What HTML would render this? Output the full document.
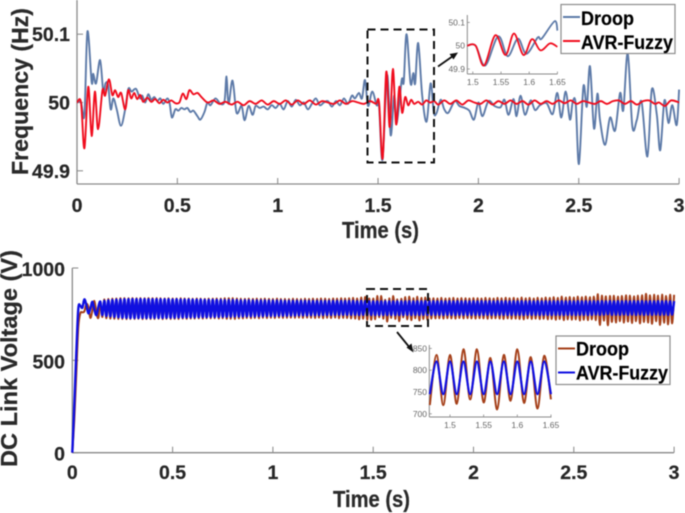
<!DOCTYPE html>
<html>
<head>
<meta charset="utf-8">
<title>Frequency and DC link voltage comparison</title>
<style>
html,body{margin:0;padding:0;background:#fff;width:685px;height:513px;overflow:hidden}
svg{display:block;filter:blur(.45px)}
text{font-family:"Liberation Sans",sans-serif}
.tick{font-weight:700;font-size:19.5px;fill:#262626;stroke:#262626;stroke-width:.2px}
.title{font-weight:700;font-size:23px;fill:#2a2a2a;stroke:#2a2a2a;stroke-width:.25px}
.leg{font-weight:700;font-size:19.5px;fill:#000;stroke:#000;stroke-width:.2px}
.small{font-size:8.5px;fill:#666}
</style>
</head>
<body>
<svg id="chart" xmlns="http://www.w3.org/2000/svg" width="685" height="513" viewBox="0 0 685 513">
  <g id="layer-top"></g>
  <g id="layer-bottom"></g>

  <text class="title" transform="translate(28,175) rotate(-90)" textLength="167" lengthAdjust="spacingAndGlyphs">Frequency (Hz)</text>
  <text class="title" x="342" y="238" textLength="77" lengthAdjust="spacingAndGlyphs">Time (s)</text>
  <text class="title" transform="translate(17,467) rotate(-90)" textLength="217" lengthAdjust="spacingAndGlyphs">DC Link Voltage (V)</text>
  <text class="title" x="333" y="507" textLength="77" lengthAdjust="spacingAndGlyphs">Time (s)</text>

  <rect x="367.5" y="29.5" width="66.5" height="133" fill="none" stroke="#111" stroke-width="2" stroke-dasharray="8 5"/>
  <rect x="367" y="289" width="61" height="37" fill="none" stroke="#111" stroke-width="2" stroke-dasharray="8 5"/>
  <g>
    <line x1="438" y1="66.5" x2="453" y2="56" stroke="#111" stroke-width="1.8"/>
    <polygon points="458,52.5 449.5,54 453.5,59.5" fill="#111"/>
  </g>
  <g>
    <line x1="397" y1="332" x2="410" y2="348" stroke="#111" stroke-width="1.8"/>
    <polygon points="413.5,352.5 406.5,347.5 411.5,343.5" fill="#111"/>
  </g>

  <g id="layer-inset-top"></g>
  <g id="layer-inset-bottom"></g>

  <g>
    <rect x="561" y="4.5" width="114" height="49" fill="#fff" stroke="#8c8c8c" stroke-width="1.2"/>
    <line x1="563" y1="17" x2="580" y2="17" stroke="#5d7aa8" stroke-width="2"/>
    <text class="leg" x="581" y="25" textLength="53" lengthAdjust="spacingAndGlyphs">Droop</text>
    <line x1="563" y1="41" x2="580" y2="41" stroke="#f00d1e" stroke-width="2"/>
    <text class="leg" x="581" y="49" textLength="92" lengthAdjust="spacingAndGlyphs">AVR-Fuzzy</text>
  </g>
  <g>
    <rect x="556" y="336" width="114" height="48.5" fill="#fff" stroke="#8c8c8c" stroke-width="1.2"/>
    <line x1="558" y1="348.5" x2="575" y2="348.5" stroke="#a5401a" stroke-width="2"/>
    <text class="leg" x="576" y="355.5" textLength="53" lengthAdjust="spacingAndGlyphs">Droop</text>
    <line x1="558" y1="372.5" x2="575" y2="372.5" stroke="#1010e0" stroke-width="2"/>
    <text class="leg" x="576" y="379.5" textLength="92" lengthAdjust="spacingAndGlyphs">AVR-Fuzzy</text>
  </g>
</svg>
<script>
var timeTicks = [0, 0.5, 1, 1.5, 2, 2.5, 3];
var timeTickLabels = ['0', '0.5', '1', '1.5', '2', '2.5', '3'];
var freqTicks = [50.1, 50, 49.9];
var freqTickLabels = ['50.1', '50', '49.9'];
var voltTicks = [1000, 500, 0];
var voltTickLabels = ['1000', '500', '0'];
var freqInsetTimeTicks = [1.5, 1.55, 1.6, 1.65];
var freqInsetTimeLabels = ['1.5', '1.55', '1.6', '1.65'];
var voltInsetTimeLabels = ['1.5', '1.55', '1.6', '1.65'];
var voltInsetTicks = [850, 800, 750, 700];
var voltInsetLabels = ['850', '800', '750', '700'];

var droopFreqTimes = [0,.02,.037,.052,.073,.081,.095,.115,.131,.142,.155,.168,.181,.198,.219,.24,.256,.272,.294,.314,.325,.34,.355,.37,.385,.4,.415,.43,.45,.462,.473,.49,.505,.52,.535,.55,.565,.58,.6,.615,.635,.65,.665,.69,.715,.735,.745,.755,.775,.795,.82,.835,.855,.875,.89,.91,.93,.95,.97,.99,1.01,1.03,1.05,1.07,1.09,1.11,1.13,1.15,1.17,1.19,1.21,1.23,1.25,1.27,1.29,1.31,1.33,1.35,1.37,1.385,1.405,1.42,1.435,1.45,1.471,1.493,1.505,1.522,1.545,1.563,1.58,1.593,1.618,1.628,1.642,1.662,1.676,1.685,1.70,1.72,1.742,1.762,1.778,1.792,1.812,1.83,1.85,1.882,1.905,1.933,1.955,1.978,2.0,2.02,2.05,2.08,2.11,2.13,2.15,2.175,2.19,2.21,2.232,2.26,2.282,2.307,2.34,2.37,2.393,2.413,2.435,2.456,2.47,2.485,2.501,2.523,2.54,2.556,2.576,2.593,2.606,2.631,2.656,2.681,2.706,2.722,2.744,2.767,2.789,2.813,2.842,2.864,2.889,2.906,2.927,2.947,2.966,2.988,3];
var droopFreqValues = [50,50,49.982,50.104,50.03,50.042,50.028,50.062,50.016,50.028,50.026,49.99,50.006,49.99,49.966,49.99,50.02,50.016,50.02,50.006,50.01,50.0,50.012,50.004,50.008,50.002,50.006,49.998,50.006,49.998,49.978,49.99,49.988,49.992,49.99,49.992,49.986,49.988,49.98,49.975,49.986,50,49.996,50.006,49.998,50.002,50.038,49.998,50.032,49.985,49.995,49.974,49.995,49.982,49.995,49.992,49.994,49.99,49.996,49.992,49.998,49.99,50.002,49.994,50.004,49.996,50.0,49.99,49.998,50.006,49.996,50,50.002,49.994,50.002,49.996,50.006,49.998,50.01,50.006,50.014,50.006,50.033,49.995,50.016,49.996,49.995,49.916,50.04,49.952,50.01,49.97,50.033,50.03,50.1,50.028,50.043,50.028,50.087,50.01,49.972,50.028,49.985,49.985,50.004,49.99,49.985,50.002,49.995,49.992,49.988,49.975,50,49.98,50.002,49.995,49.993,50.004,49.982,50.005,49.98,50.01,49.982,50.003,49.989,49.996,49.999,49.983,50.014,49.978,50.016,49.975,50.001,49.998,49.91,50.023,49.994,50.053,49.962,50.013,49.974,49.938,49.978,49.959,50.014,49.989,50.072,49.965,49.974,50.001,49.921,50.019,49.982,49.93,50.003,49.97,49.996,49.967,50.019];
var avrFreqTimes = [0,.02,.037,.056,.073,.089,.105,.127,.14,.159,.176,.19,.205,.22,.24,.255,.27,.285,.3,.315,.33,.35,.37,.39,.41,.43,.45,.47,.49,.51,.527,.545,.56,.58,.6,.62,.65,.68,.71,.74,.77,.8,.83,.86,.89,.92,.95,.98,1.01,1.04,1.07,1.1,1.13,1.16,1.19,1.22,1.25,1.28,1.31,1.34,1.37,1.4,1.43,1.46,1.49,1.505,1.523,1.541,1.558,1.574,1.59,1.606,1.62,1.635,1.65,1.665,1.68,1.7,1.72,1.74,1.76,1.78,1.8,1.83,1.86,1.89,1.92,1.95,1.98,2.01,2.04,2.07,2.1,2.13,2.16,2.19,2.22,2.25,2.28,2.31,2.34,2.37,2.4,2.43,2.46,2.49,2.52,2.55,2.58,2.61,2.64,2.67,2.7,2.73,2.76,2.79,2.82,2.85,2.88,2.9,2.93,2.96,3];
var avrFreqValues = [50,50,49.933,50.023,49.951,50.016,49.961,50.018,50.01,50.034,50.011,50.018,50.008,50.014,49.99,50.018,50.006,50.014,50.005,50.011,50.001,50.007,50.001,50.005,49.999,50.004,50,50.003,49.999,50,50.013,50.005,50.018,50.012,50.014,50.008,50,50.003,49.998,50.001,49.997,50.001,49.996,50.002,49.998,50.003,49.997,50.002,49.998,50.003,49.997,50.003,49.998,50.003,49.997,50.002,50,49.998,50.003,49.998,50.002,50,49.998,50.002,49.998,50,49.918,50.045,49.964,50.049,49.968,50.023,49.985,50.008,49.996,50.004,49.998,50.001,49.997,50.003,50,50.002,49.997,50.003,49.998,50.003,49.997,50.003,50,49.998,50.003,49.997,50.002,49.998,50.003,49.998,50.002,49.997,50.003,49.998,50.002,49.998,50.003,49.999,50.003,49.998,50.002,50,49.998,50.002,49.998,50.002,50.003,49.998,50.002,49.997,50.002,50.003,49.998,50,49.995,50.003,50];

var voltageStep = 0.01;
var droopVoltage = [
0,180,430,680,755,760,765,805,790,730,770,822,760,730,810,735,830,728,832,726,
834,725,835,724,836,724,837,723,836,724,837,724,836,725,837,723,836,724,837,724,
836,724,837,725,836,723,835,725,836,724,835,725,835,724,836,726,835,725,835,726,
834,726,835,727,834,726,833,728,834,727,834,728,835,726,834,728,836,725,836,725,
837,724,835,727,834,727,833,729,834,728,833,729,834,728,833,730,834,729,833,730,
833,729,834,731,832,729,833,730,832,731,834,730,833,731,832,730,834,731,833,730,
834,729,833,731,835,728,834,730,833,729,835,731,834,728,836,730,835,729,836,727,
838,726,835,722,840,725,843,720,835,720,835,723,848,733,848,726,828,710,835,730,
848,725,830,712,833,733,842,722,845,718,836,728,844,716,838,724,840,720,835,726,
836,727,835,728,838,726,835,728,836,727,838,726,835,729,837,727,836,728,835,727,
837,726,836,728,835,727,838,725,836,727,835,728,838,726,836,724,839,727,836,725,
838,726,835,724,840,722,836,727,838,724,835,726,839,723,836,725,840,722,838,724,
842,720,838,724,845,718,840,722,843,720,840,722,845,716,842,720,846,718,842,722,
845,718,858,692,850,715,846,690,848,708,850,705,845,712,848,704,852,710,850,702,
846,712,850,700,852,708,860,705,852,698,855,712,850,692,856,704,848,695,855,700,
855];
var avrVoltage = [
0,260,540,780,795,785,830,800,755,780,817,775,745,790,817,745,822,740,825,738,
827,735,829,733,830,731,831,730,831,729,832,729,832,729,832,730,832,729,831,730,
831,730,832,730,831,730,831,731,831,731,830,731,831,732,830,732,830,732,830,733,
829,733,829,734,829,734,828,734,828,735,828,735,828,735,828,736,827,736,827,736,
827,737,827,737,826,737,826,738,826,738,825,738,825,739,825,739,825,740,824,740,
824,740,824,741,824,741,823,741,823,742,823,742,823,743,823,743,823,743,822,744,
822,744,822,744,822,745,822,745,822,745,822,746,822,746,822,746,822,746,822,746,
822,746,821,745,822,746,821,745,820,745,820,745,820,745,820,745,820,745,820,745,
820,745,820,745,820,745,820,746,821,745,820,746,821,745,820,746,821,746,820,746,
821,746,820,746,821,745,820,746,821,746,820,745,821,746,820,746,821,745,820,746,
821,746,820,745,821,746,820,746,821,746,820,745,821,746,820,746,821,745,820,746,
821,746,820,746,821,745,820,746,821,746,820,746,821,745,820,746,821,746,820,745,
821,746,820,746,821,745,820,746,821,746,820,745,821,746,820,746,821,745,820,746,
821,748,820,746,821,747,820,749,821,746,820,747,821,746,820,748,821,746,820,747,
821,746,820,748,821,746,820,747,821,746,820,748,821,746,820,747,821,746,820,747,
821];

var NS = 'http://www.w3.org/2000/svg';
var AXIS = '#8a8a8a';

function topX(t){ return 77 + t * 200.7; }
function topY(f){ return 102.5 - (f - 50) * 683; }
function botX(t){ return 72.3 + t * 200.6; }
function botY(v){ return 452.7 - v * 0.1847; }
function insetTopX(t){ return 472.8 + (t - 1.5) * 564; }
function insetTopY(f){ return 45.7 - (f - 50) * 233; }
function insetBotX(t){ return 450 + (t - 1.5) * 673; }
function insetBotY(v){ return 392 - (v - 750) * 0.4357; }

function make(parent, tag, attrs){
  var el = document.createElementNS(NS, tag);
  for (var k in attrs) el.setAttribute(k, attrs[k]);
  parent.appendChild(el);
  return el;
}

function smoothPath(ts, vs, sx, sy){
  var p = [];
  for (var i = 0; i < ts.length; i++) p.push([sx(ts[i]), sy(vs[i])]);
  var d = 'M' + p[0][0].toFixed(2) + ' ' + p[0][1].toFixed(2);
  for (var j = 0; j < p.length - 1; j++){
    var a = p[Math.max(j - 1, 0)], b = p[j], c = p[j + 1], e = p[Math.min(j + 2, p.length - 1)];
    var k = 1 / 6;
    d += 'C' + (b[0] + (c[0] - a[0]) * k).toFixed(2) + ' ' + (b[1] + (c[1] - a[1]) * k).toFixed(2) + ' ' +
         (c[0] - (e[0] - b[0]) * k).toFixed(2) + ' ' + (c[1] - (e[1] - b[1]) * k).toFixed(2) + ' ' +
         c[0].toFixed(2) + ' ' + c[1].toFixed(2);
  }
  return d;
}

function drawSeries(parent, ts, vs, sx, sy, color, width, name){
  var el = make(parent, 'path', {d: smoothPath(ts, vs, sx, sy), fill: 'none', stroke: color, 'stroke-width': width, 'stroke-linejoin': 'round'});
  
  
  return el;
}

function drawAxes(parent, cfg){
  var xAxis = make(parent, 'line', {x1: cfg.left, y1: cfg.bottom, x2: cfg.right, y2: cfg.bottom, stroke: AXIS, 'stroke-width': cfg.w});
  
  
  var yAxis = make(parent, 'line', {x1: cfg.left, y1: cfg.top, x2: cfg.left, y2: cfg.bottom, stroke: AXIS, 'stroke-width': cfg.w});
  
  
  cfg.xTicks.forEach(function(t, i){
    var x = cfg.sx(t);
    var tick = make(parent, 'line', {x1: x, y1: cfg.bottom, x2: x, y2: cfg.bottom - cfg.len, stroke: AXIS, 'stroke-width': cfg.w * 0.8});
    
    
    var lab = make(parent, 'text', {x: x, y: cfg.xLabelY, 'text-anchor': 'middle', 'class': cfg.cls});
    
    
    lab.textContent = cfg.xLabels[i];
  });
  cfg.yTicks.forEach(function(v, i){
    var y = cfg.sy(v);
    var tick = make(parent, 'line', {x1: cfg.left, y1: y, x2: cfg.left + cfg.len, y2: y, stroke: AXIS, 'stroke-width': cfg.w * 0.8});
    
    
    var lab = make(parent, 'text', {x: cfg.yLabelX, y: y + cfg.yLabelDy, 'text-anchor': 'end', 'class': cfg.cls});
    
    
    lab.textContent = cfg.yLabels[i];
  });
}

var voltageTimes = avrVoltage.map(function(_, i){ return i * voltageStep; });

function sliceWindow(ts, vs, from, to){
  var outT = [], outV = [];
  for (var i = 0; i < ts.length; i++){
    if (ts[i] >= from - 1e-6 && ts[i] <= to + 1e-6){ outT.push(ts[i]); outV.push(vs[i]); }
  }
  return [outT, outV];
}

var layerTop = document.getElementById('layer-top');
drawAxes(layerTop, {left: 77, right: 679, top: 0, bottom: 184, w: 1.3, len: 6, sx: topX, sy: topY,
  xTicks: timeTicks, xLabels: timeTickLabels, yTicks: freqTicks, yLabels: freqTickLabels,
  xLabelY: 212, yLabelX: 70, yLabelDy: 7, cls: 'tick'});
drawSeries(layerTop, droopFreqTimes, droopFreqValues, topX, topY, '#5d7aa8', 1.9, 'frequency-droop-line');
drawSeries(layerTop, avrFreqTimes, avrFreqValues, topX, topY, '#f00d1e', 1.9, 'frequency-avr-fuzzy-line');

var layerBottom = document.getElementById('layer-bottom');
drawAxes(layerBottom, {left: 72.3, right: 674, top: 268, bottom: 452.7, w: 1.3, len: 6, sx: botX, sy: botY,
  xTicks: timeTicks, xLabels: timeTickLabels, yTicks: voltTicks, yLabels: voltTickLabels,
  xLabelY: 479, yLabelX: 65, yLabelDy: 8, cls: 'tick'});
drawSeries(layerBottom, voltageTimes, droopVoltage, botX, botY, '#a5401a', 2, 'voltage-droop-line');
drawSeries(layerBottom, voltageTimes, avrVoltage, botX, botY, '#1010e0', 2.4, 'voltage-avr-fuzzy-line');

var insetFreqDroopTimes = [1.49,1.505,1.522,1.545,1.562,1.58,1.595,1.615,1.622,1.645,1.65];
var insetFreqDroopValues = [50,50,49.915,50.04,49.955,50.03,49.965,50.035,50.03,50.105,50.065];
var insetFreqAvrTimes = [1.49,1.505,1.52,1.54,1.558,1.573,1.59,1.605,1.62,1.637,1.65];
var insetFreqAvrValues = [50,50,49.915,50.045,49.96,50.052,49.96,50.028,49.98,50.01,49.995];

var layerInsetTop = document.getElementById('layer-inset-top');
drawAxes(layerInsetTop, {left: 467.3, right: 557.5, top: 15, bottom: 74, w: 1, len: 2.5, sx: insetTopX, sy: insetTopY,
  xTicks: freqInsetTimeTicks, xLabels: freqInsetTimeLabels, yTicks: freqTicks, yLabels: freqTickLabels,
  xLabelY: 85, yLabelX: 465, yLabelDy: 3, cls: 'small'});
drawSeries(layerInsetTop, insetFreqDroopTimes, insetFreqDroopValues, insetTopX, insetTopY, '#5d7aa8', 1.8, 'inset-frequency-droop-line');
drawSeries(layerInsetTop, insetFreqAvrTimes, insetFreqAvrValues, insetTopX, insetTopY, '#f00d1e', 1.8, 'inset-frequency-avr-fuzzy-line');

var layerInsetBottom = document.getElementById('layer-inset-bottom');
drawAxes(layerInsetBottom, {left: 429.3, right: 551.5, top: 345, bottom: 417, w: 1, len: 2.5, sx: insetBotX, sy: insetBotY,
  xTicks: freqInsetTimeTicks, xLabels: voltInsetTimeLabels, yTicks: voltInsetTicks, yLabels: voltInsetLabels,
  xLabelY: 428, yLabelX: 427, yLabelDy: 3, cls: 'small'});
var insetDroop = sliceWindow(voltageTimes, droopVoltage, 1.47, 1.65);
var insetAvr = sliceWindow(voltageTimes, avrVoltage, 1.47, 1.65);
drawSeries(layerInsetBottom, insetDroop[0], insetDroop[1], insetBotX, insetBotY, '#a5401a', 2, 'inset-voltage-droop-line');
drawSeries(layerInsetBottom, insetAvr[0], insetAvr[1], insetBotX, insetBotY, '#1010e0', 2.2, 'inset-voltage-avr-fuzzy-line');
</script>
</body>
</html>
